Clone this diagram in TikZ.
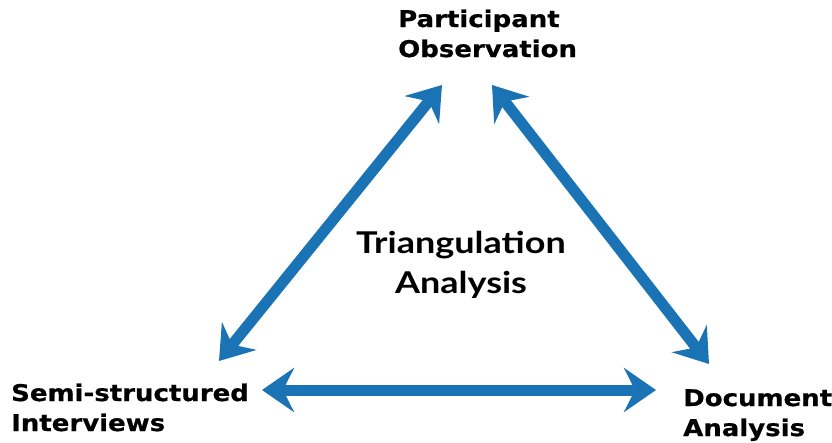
\documentclass[tikz,border=0pt]{standalone}
\usepackage{fontspec}
\setmainfont{DejaVu Sans}
\newfontfamily\methodfont{DejaVu Sans}[FakeStretch=1.13,FakeBold=0.6]
\newfontfamily\centrefont{Lato}[FakeStretch=1.2]
\usetikzlibrary{arrows.meta}
\definecolor{linkblue}{RGB}{26,115,181}
\begin{document}
\begin{tikzpicture}[x=1pt,y=-1pt,
  methodlabel/.style={font=\methodfont\bfseries\fontsize{23}{30}\selectfont, align=left,
    anchor=base west, inner sep=0pt},
  centrelabel/.style={font=\centrefont\bfseries\fontsize{30}{40}\selectfont, align=center,
    anchor=base, inner sep=0pt},
  link/.style={draw=linkblue, line width=11pt,
    {Stealth[length=32pt,width=44pt,inset=11pt]}-{Stealth[length=32pt,width=44pt,inset=11pt]}}]
\useasboundingbox (0,0) rectangle (832,442);

% corner labels (anchored on the baseline of their last line) and the central caption
\node[methodlabel] (obs) at (398,57) {Participant\\Observation};
\node[methodlabel] (int) at (11,431) {Semi-structured\\Interviews};
\node[methodlabel] (doc) at (683,436) {Document\\Analysis};
\node[centrelabel] (tri) at (461,293) {Triangulation\\Analysis};

% arrow end points
\coordinate (obsL) at (442,85);
\coordinate (obsR) at (492,85);
\coordinate (intU) at (219,361);
\coordinate (intR) at (262,390);
\coordinate (docU) at (709,364);
\coordinate (docL) at (656,390);

% double-headed links between the three methods
\draw[link] (intU) -- (obsL);
\draw[link] (obsR) -- (docU);
\draw[link] (intR) -- (docL);
\end{tikzpicture}
\end{document}
